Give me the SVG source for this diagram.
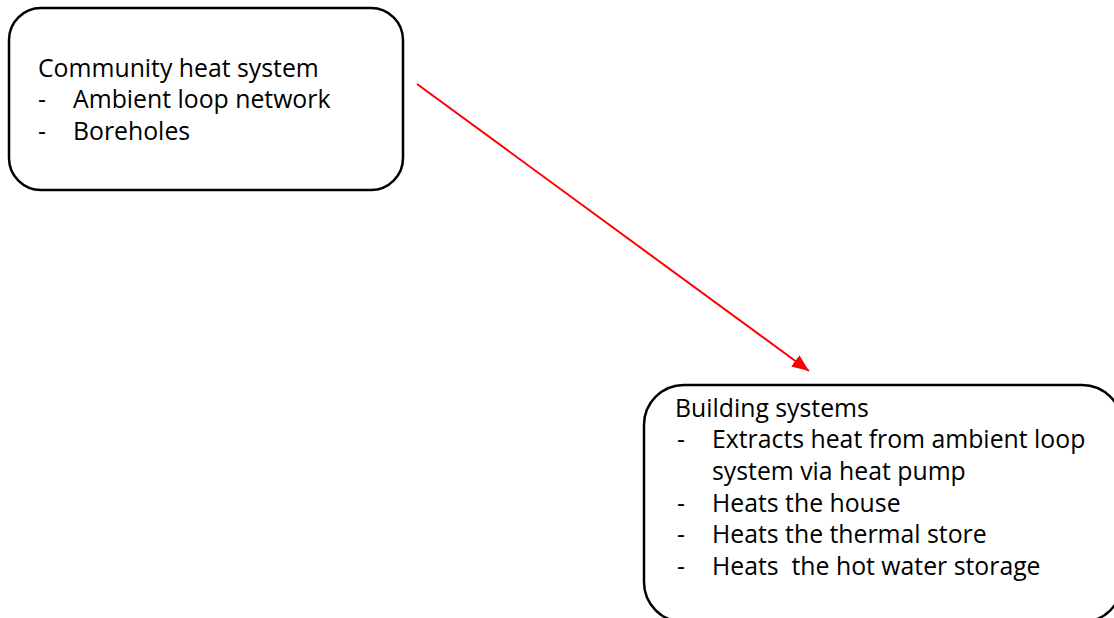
<svg xmlns="http://www.w3.org/2000/svg" width="1114" height="618" viewBox="0 0 1114 618">
<defs>
<style>
.box{fill:#fff;stroke:#000;stroke-width:2.5}
.t{font-family:"Open Sans","Noto Sans","Liberation Sans",sans-serif;font-size:24.8px;fill:#000}
.conn{stroke:#ff0000;stroke-width:2;fill:none}
</style>
<marker id="ah" viewBox="0 0 10 10" refX="10" refY="5" markerWidth="17" markerHeight="14" markerUnits="userSpaceOnUse" orient="auto" preserveAspectRatio="none">
<path d="M0,0 L10,5 L0,10 z" fill="#ff0000"/>
</marker>
</defs>
<rect width="1114" height="618" fill="#fff"/>
<g id="community">
<rect class="box" x="9" y="8" width="394" height="182" rx="32"/>
<text class="t" x="38" y="77">Community heat system</text>
<text class="t" x="38" y="108">-</text><text class="t" x="73" y="108">Ambient loop network</text>
<text class="t" x="38" y="140">-</text><text class="t" x="73" y="140">Boreholes</text>
</g>
<g id="building">
<rect class="box" x="644" y="385" width="478" height="237" rx="40"/>
<text class="t" x="675" y="417">Building systems</text>
<text class="t" x="677" y="448">-</text><text class="t" x="712" y="448">Extracts heat from ambient loop</text>
<text class="t" x="712" y="480">system via heat pump</text>
<text class="t" x="677" y="512">-</text><text class="t" x="712" y="512">Heats the house</text>
<text class="t" x="677" y="543">-</text><text class="t" x="712" y="543">Heats the thermal store</text>
<text class="t" x="677" y="575">-</text><text class="t" x="712" y="575" xml:space="preserve">Heats  the hot water storage</text>
</g>
<g id="connectors">
<line class="conn" x1="417" y1="84" x2="809" y2="371" marker-end="url(#ah)"/>
</g>
</svg>
